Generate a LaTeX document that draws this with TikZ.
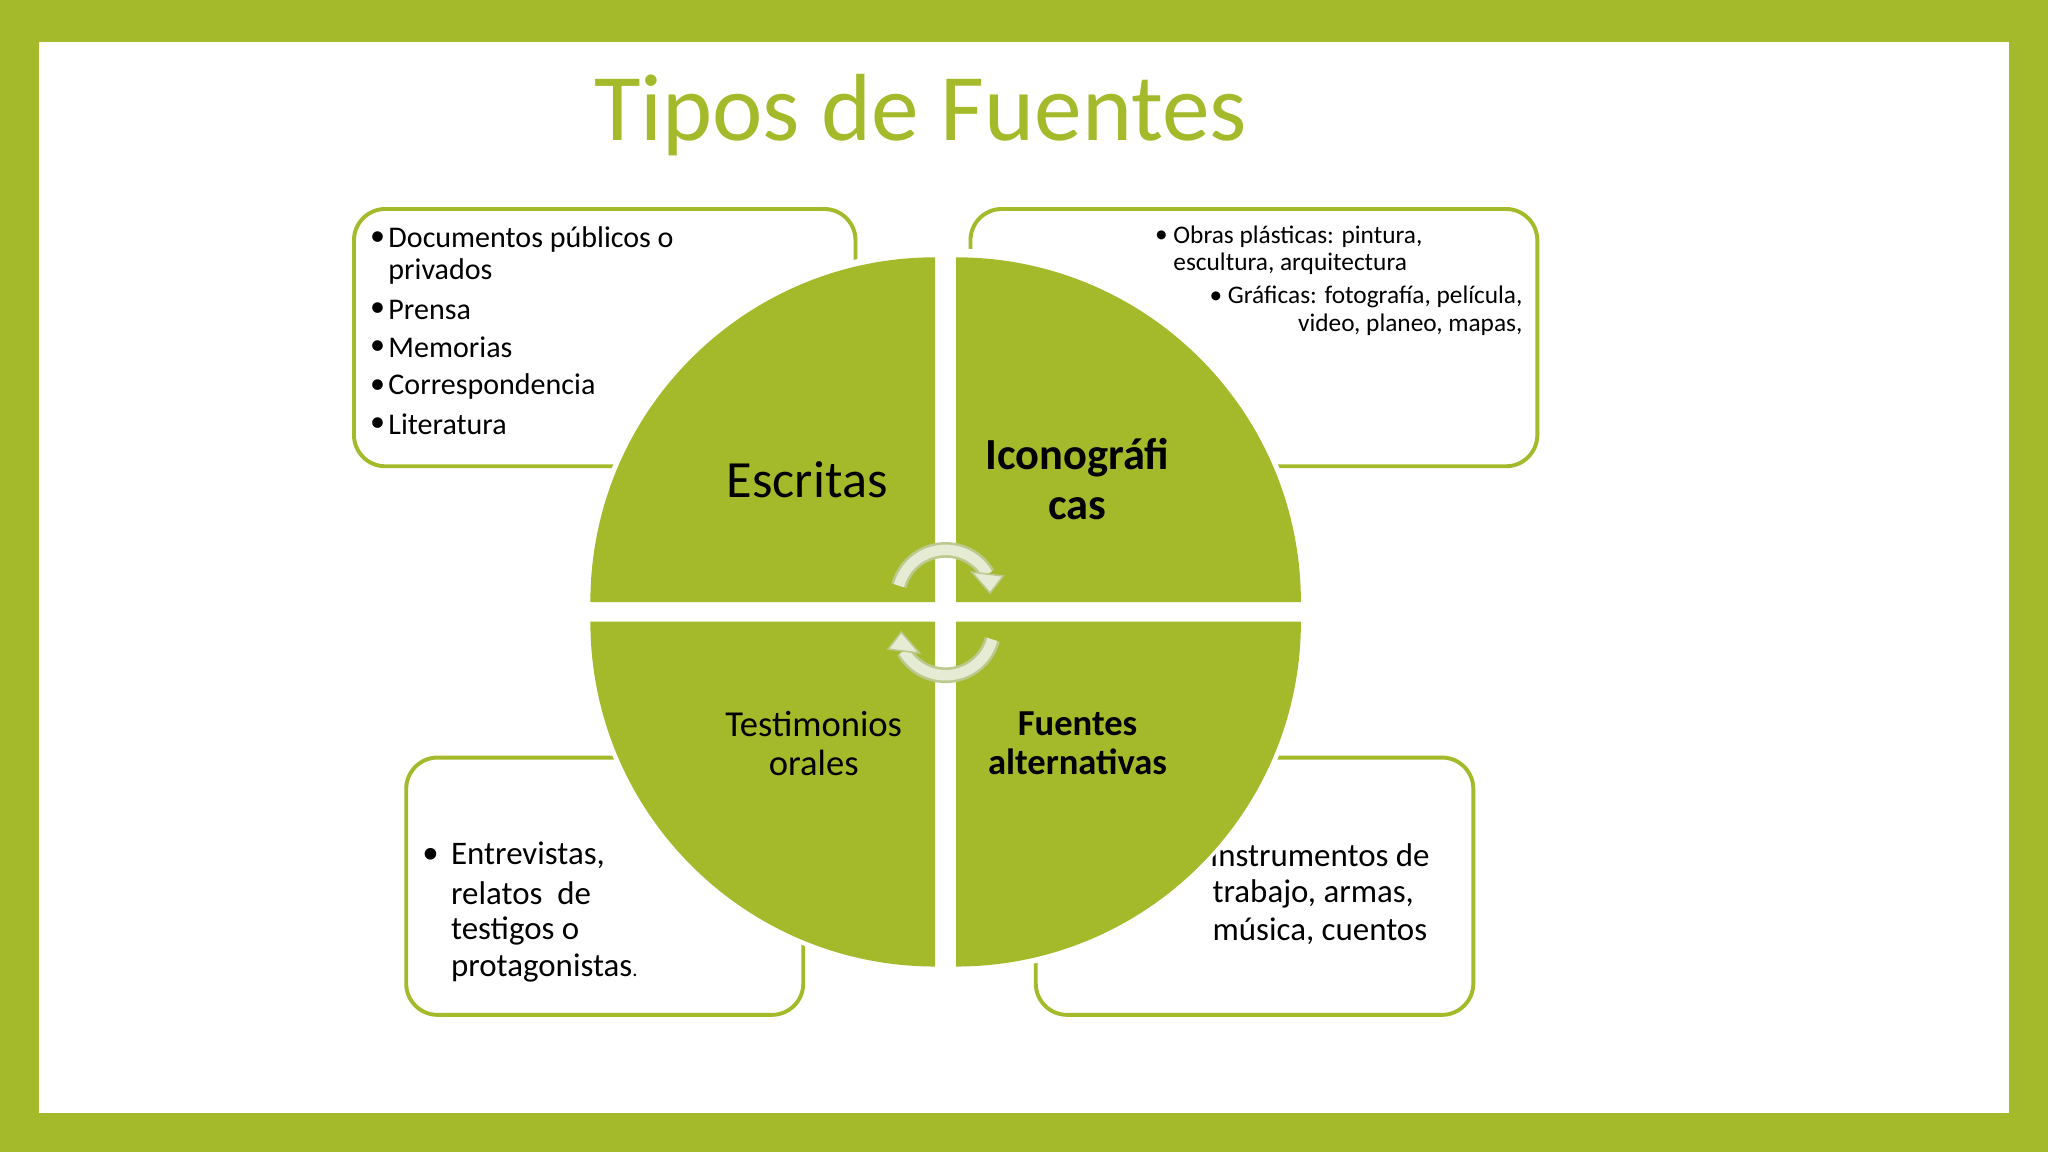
\documentclass[tikz,border=0pt]{standalone}
\usepackage{fontspec}
\setmainfont{Carlito}
\usetikzlibrary{arrows.meta}
\definecolor{gr}{HTML}{A5BA2A}
\definecolor{arl}{HTML}{E6ECD3}
\definecolor{aro}{HTML}{BCC98E}
\begin{document}
\begin{tikzpicture}[x=0.5pt,y=-0.5pt,
  box/.style={draw=gr,line width=1.5pt,rounded corners=12pt},
  lbl/.style={align=center,inner sep=0pt}]
\useasboundingbox (0,0) rectangle (1568,882);
\fill[gr] (0,0) rectangle (1568,882);
\fill[white] (30,32) rectangle (1538,852);
\node[text=gr,font=\fontsize{36.5}{40}\selectfont] (title) at (705,88) {Tipos de Fuentes};
% boxes
\draw[box] (271,160) rectangle (655,357);
\draw[box] (743,160) rectangle (1177,357);
\draw[box] (311,580) rectangle (615,777);
\draw[box] (793,580) rectangle (1128,777);
% box texts
\begin{scope}[every node/.style={anchor=west,inner sep=0pt,font=\fontsize{11.5}{13}\selectfont}]
\node (b1) at (283,183) {•}; \node at (297,183) {Documentos públicos o};
\node at (297,208) {privados};
\node at (283,237) {•}; \node at (297,237) {Prensa};
\node at (283,266) {•}; \node at (297,266) {Memorias};
\node at (283,296) {•}; \node at (297,296) {Correspondencia};
\node at (283,325) {•}; \node at (297,325) {Literatura};
\end{scope}
\begin{scope}[every node/.style={inner sep=0pt,font=\fontsize{9.7}{11}\selectfont}]
\node[anchor=west] (b2) at (884,181) {•}; \node[anchor=west] at (898,181) {Obras plásticas: pintura,};
\node[anchor=west] at (898,202) {escultura, arquitectura};
\node[anchor=east] at (1166,227) {•\ Gráficas: fotografía, película,};
\node[anchor=east] at (1166,249) {video, planeo, mapas,};
\end{scope}
\begin{scope}[every node/.style={anchor=west,inner sep=0pt,font=\fontsize{12.6}{14}\selectfont}]
\node (b3) at (323,655) {•}; \node at (345,655) {Entrevistas,};
\node at (345,684) {relatos \ de};
\node at (345,713) {testigos o};
\node at (345,741) {protagonistas{\fontsize{8}{9}\selectfont.}};
\node (b4) at (926,655) {Instrumentos de};
\node at (928,684) {trabajo, armas,};
\node at (928,713) {música, cuentos};
\end{scope}
% circle
\fill[white] (724,468) circle[radius=278];
\fill[gr] (716,461) -- (452,461) arc[start angle=180,end angle=270,radius=264] -- cycle;
\fill[gr] (732,461) -- (732,197) arc[start angle=270,end angle=360,radius=264] -- cycle;
\fill[gr] (732,476) -- (996,476) arc[start angle=0,end angle=90,radius=264] -- cycle;
\fill[gr] (716,476) -- (716,740) arc[start angle=90,end angle=180,radius=264] -- cycle;
% quadrant labels
\node[lbl,font=\fontsize{20}{22}\selectfont] (q1) at (618,367) {Escritas};
\node[lbl,font=\bfseries\fontsize{17}{19}\selectfont] (q2) at (825,367) {Iconográfi\\cas};
\node[lbl,font=\fontsize{14}{15}\selectfont] (q3) at (623,569) {Testimonios\\orales};
\node[lbl,font=\bfseries\fontsize{14}{15}\selectfont] (q4) at (825,569) {Fuentes\\alternativas};
% cycle arrows
\draw[aro,line width=6pt] (724,458) ++(195:37) arc[start angle=195,end angle=330,radius=37];
\draw[arl,line width=4pt] (724,458) ++(195:37) arc[start angle=195,end angle=330,radius=37];
\fill[arl,draw=aro,line width=0.6pt] (744,438) -- (768,441) -- (758,454) -- cycle;
\draw[aro,line width=6pt] (724,480) ++(15:37) arc[start angle=15,end angle=150,radius=37];
\draw[arl,line width=4pt] (724,480) ++(15:37) arc[start angle=15,end angle=150,radius=37];
\fill[arl,draw=aro,line width=0.6pt] (704,500) -- (680,497) -- (690,484) -- cycle;
\end{tikzpicture}
\end{document}
